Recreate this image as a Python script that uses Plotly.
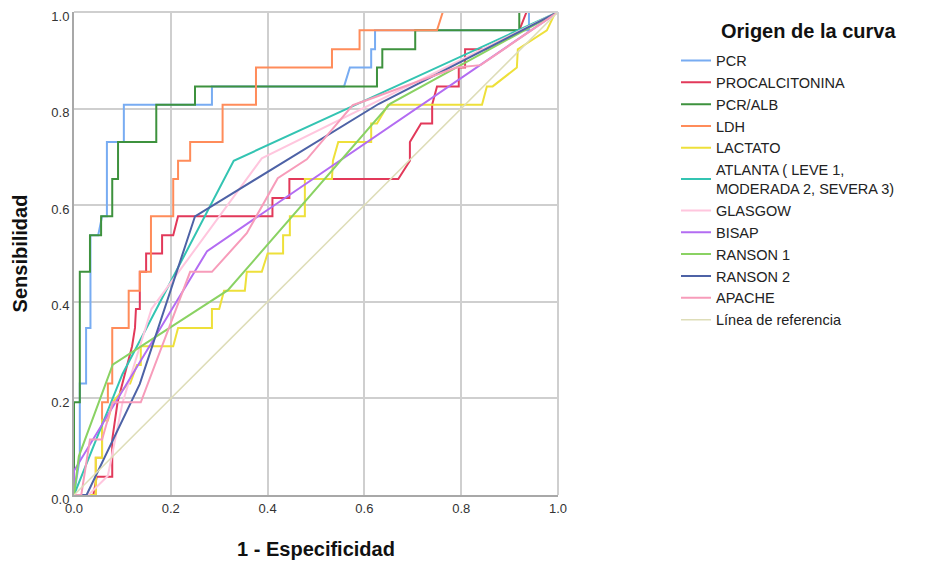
import plotly.graph_objects as go

# ---- data (1 - specificity, sensitivity) ----
PCR = [(0,0),(0.012,0.077),(0.012,0.231),(0.025,0.231),(0.025,0.346),(0.034,0.346),(0.034,0.538),
       (0.05,0.538),(0.058,0.577),(0.068,0.577),(0.068,0.731),(0.103,0.731),(0.103,0.808),(0.285,0.808),
       (0.285,0.846),(0.558,0.846),(0.57,0.885),(0.614,0.885),(0.614,0.923),(0.622,0.923),(0.622,0.962),
       (0.94,0.962),(0.94,1),(1,1)]
PROCALCITONINA = [(0,0),(0.04,0),(0.047,0.038),(0.079,0.038),(0.079,0.115),(0.09,0.192),(0.1,0.231),
                  (0.11,0.269),(0.12,0.308),(0.126,0.346),(0.128,0.385),(0.136,0.385),(0.136,0.462),
                  (0.149,0.462),(0.149,0.5),(0.182,0.5),(0.182,0.538),(0.205,0.538),(0.215,0.577),
                  (0.41,0.577),(0.41,0.615),(0.445,0.615),(0.445,0.654),(0.67,0.654),(0.694,0.692),
                  (0.694,0.731),(0.717,0.769),(0.74,0.769),(0.74,0.808),(0.75,0.846),(0.795,0.846),
                  (0.795,0.885),(0.808,0.885),(0.808,0.923),(0.85,0.923),(0.92,0.962),(0.935,1),(1,1)]
PCR_ALB = [(0,0),(0,0.192),(0.012,0.192),(0.012,0.462),(0.033,0.462),(0.033,0.538),(0.056,0.538),
           (0.056,0.577),(0.079,0.577),(0.079,0.654),(0.091,0.654),(0.091,0.731),(0.17,0.731),
           (0.17,0.808),(0.25,0.808),(0.25,0.846),(0.626,0.846),(0.626,0.885),(0.637,0.885),
           (0.637,0.923),(0.705,0.923),(0.705,0.962),(0.92,0.962),(0.92,1),(1,1)]
LDH = [(0,0),(0.045,0),(0.045,0.077),(0.058,0.077),(0.058,0.192),(0.07,0.192),(0.07,0.231),(0.079,0.231),
       (0.079,0.346),(0.113,0.346),(0.113,0.423),(0.136,0.423),(0.136,0.462),(0.159,0.462),(0.159,0.577),
       (0.205,0.577),(0.205,0.654),(0.215,0.654),(0.215,0.692),(0.24,0.692),(0.24,0.731),(0.307,0.731),
       (0.307,0.808),(0.376,0.808),(0.376,0.885),(0.533,0.885),(0.533,0.923),(0.59,0.923),(0.59,0.962),
       (0.75,0.962),(0.762,1),(1,1)]
LACTATO = [(0,0),(0.045,0),(0.045,0.077),(0.058,0.077),(0.058,0.154),(0.07,0.154),(0.08,0.192),
           (0.112,0.231),(0.116,0.231),(0.13,0.269),(0.138,0.269),(0.138,0.308),(0.205,0.308),
           (0.215,0.346),(0.285,0.346),(0.285,0.385),(0.3,0.385),(0.31,0.423),(0.353,0.423),
           (0.357,0.462),(0.388,0.462),(0.4,0.5),(0.432,0.5),(0.432,0.538),(0.446,0.538),(0.446,0.577),
           (0.477,0.577),(0.477,0.654),(0.533,0.654),(0.535,0.692),(0.546,0.731),(0.614,0.731),
           (0.614,0.769),(0.626,0.769),(0.649,0.808),(0.843,0.808),(0.853,0.846),(0.865,0.846),
           (0.915,0.885),(0.917,0.923),(0.977,0.962),(0.995,1),(1,1)]
ATLANTA = [(0,0),(0.1,0.25),(0.33,0.692),(1,1)]
GLASGOW = [(0,0),(0.03,0),(0.07,0.04),(0.1,0.19),(0.16,0.385),(0.388,0.697),(1,1)]
BISAP = [(0,0),(0,0.05),(0.275,0.505),(1,1)]
RANSON1 = [(0,0),(0.01,0.08),(0.08,0.27),(0.318,0.424),(0.653,0.81),(1,1)]
RANSON2 = [(0,0),(0.026,0),(0.136,0.23),(0.25,0.577),(0.63,0.81),(1,1)]
APACHE = [(0,0),(0.015,0),(0.033,0.115),(0.058,0.115),(0.08,0.192),(0.138,0.192),(0.24,0.462),
          (0.285,0.462),(0.357,0.542),(0.421,0.656),(0.481,0.695),(0.576,0.807),(0.79,0.885),
          (0.84,0.89),(1,1)]
REFERENCIA = [(0,0),(1,1)]

names = ["PCR", "PROCALCITONINA", "PCR/ALB", "LDH", "LACTATO",
         "ATLANTA ( LEVE 1,<br>MODERADA 2, SEVERA 3)", "GLASGOW", "BISAP",
         "RANSON 1", "RANSON 2", "APACHE", "Línea de referencia"]
series = [PCR, PROCALCITONINA, PCR_ALB, LDH, LACTATO, ATLANTA, GLASGOW, BISAP,
          RANSON1, RANSON2, APACHE, REFERENCIA]
colors = ["#78ACF2", "#E2395A", "#3E923E", "#FF8C5A", "#EEE03A", "#33C4B2", "#FFC6DE",
          "#B36CF2", "#8AD263", "#4D62A6", "#F79CBA", "#DEDDB8"]
tick_vals = [0, 0.2, 0.4, 0.6, 0.8, 1.0]
tick_text = ["0.0", "0.2", "0.4", "0.6", "0.8", "1.0"]
legend_title = "Origen de la curva"

FONT = "Liberation Sans"
fig = go.Figure()
for i, pts in enumerate(series):
    fig.add_trace(go.Scatter(
        x=[p[0] for p in pts], y=[p[1] for p in pts], mode="lines", name=names[i],
        line=dict(color=colors[i], width=2 if i < 11 else 1.5),
        legendrank=i + 1, hoverinfo="skip"))

grid_c = "#CFCFCF"
fig.update_xaxes(range=[0, 1], tickvals=tick_vals, ticktext=tick_text, showgrid=True,
                 gridcolor=grid_c, gridwidth=2, zeroline=False, showline=True,
                 linecolor="#A8A8A8", linewidth=2, ticks="", automargin=False,
                 ticklabeloverflow="allow",
                 tickfont=dict(family=FONT, size=13, color="#333"),
                 title=dict(text="<b>1 - Especificidad</b>", standoff=27,
                            font=dict(family=FONT, size=20, color="#111")))
fig.update_yaxes(range=[0, 1], tickvals=tick_vals, ticktext=tick_text, showgrid=True,
                 gridcolor=grid_c, gridwidth=2, zeroline=False, showline=True,
                 linecolor="#A8A8A8", linewidth=2, ticks="", automargin=False,
                 ticklabeloverflow="allow", ticklabelshift=4,
                 tickfont=dict(family=FONT, size=13, color="#333"),
                 title=dict(text="<b>Sensibilidad</b>", standoff=18,
                            font=dict(family=FONT, size=20, color="#111")))

fig.add_shape(type="line", xref="paper", yref="paper", x0=0, x1=1, y0=1, y1=1,
              line=dict(color=grid_c, width=2))
fig.add_shape(type="line", xref="paper", yref="paper", x0=1, x1=1, y0=0, y1=1,
              line=dict(color=grid_c, width=2))

# page pixel -> paper coords (plot area is page x 74..558, y 12..495)
def px(xp):
    return (xp - 74) / 484
def py(yp):
    return (495 - yp) / 483

fig.add_annotation(text="<b>" + legend_title + "</b>", xref="paper", yref="paper",
                   x=px(808), y=py(31), xanchor="center", yanchor="middle",
                   showarrow=False, font=dict(family=FONT, size=20, color="#111"))

fig.update_layout(
    width=932, height=563,
    margin=dict(l=66, r=382, t=4, b=76, autoexpand=False),
    paper_bgcolor="white", plot_bgcolor="white",
    font=dict(family=FONT, size=14.5, color="#222"),
    legend=dict(x=px(676), xanchor="left", y=py(44.5), yanchor="top",
                font=dict(family=FONT, size=14.5, color="#222"),
                itemwidth=30, bgcolor="rgba(0,0,0,0)", traceorder="normal"),
)

fig.write_html("out.html")
